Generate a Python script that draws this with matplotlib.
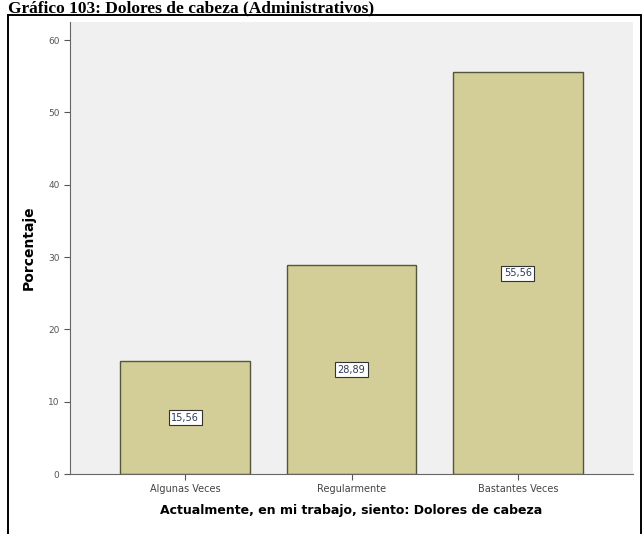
import matplotlib
matplotlib.use("Agg")
import matplotlib.pyplot as plt
from matplotlib.patches import Rectangle

categories = ["Algunas Veces", "Regularmente", "Bastantes Veces"]
values = [15.56, 28.89, 55.56]
labels = ["15,56", "28,89", "55,56"]
yticks = [0, 10, 20, 30, 40, 50, 60]

fig = plt.figure(figsize=(6.43, 5.34), dpi=100)
fig.patch.set_facecolor("white")

# outer frame
fig.add_artist(Rectangle((8/643, -0.05), (641-8)/643, 1.05 - 15/534,
                         transform=fig.transFigure, fill=False,
                         edgecolor="black", linewidth=1.4))
fig.text(8/643, 1 - 0.2/534, "Gráfico 103: Dolores de cabeza (Administrativos)",
         family="Liberation Serif", fontweight="bold", fontsize=12.5,
         ha="left", va="top")

ax = fig.add_axes([70/643, 60/534, (633-70)/643, (474-22)/534])
ax.set_facecolor("#F0F0F0")
x = range(len(categories))
ax.bar(x, values, width=0.78, color="#D3CD97", edgecolor="#55553C", linewidth=1.0)
for xi, v, lab in zip(x, values, labels):
    ax.text(xi, v / 2, lab, ha="center", va="center", fontsize=7, color="#2F3A55",
            bbox=dict(boxstyle="square,pad=0.25", facecolor="white",
                      edgecolor="#333333", linewidth=0.8))
ax.set_xlim(-0.693, 2.693)
ax.set_ylim(0, 62.5)
ax.set_yticks(yticks)
ax.set_xticks(list(x))
ax.set_xticklabels(categories, fontsize=7, color="#444444")
ax.tick_params(axis="y", labelsize=6.5, labelcolor="#555555", length=4, color="#555555")
ax.tick_params(axis="x", length=4, color="#555555")
for s in ["top", "right"]:
    ax.spines[s].set_visible(False)
ax.spines["left"].set_color("#666666")
ax.spines["bottom"].set_color("#666666")
ax.set_xlabel("Actualmente, en mi trabajo, siento: Dolores de cabeza",
              fontsize=9, fontweight="bold", labelpad=7)
ax.set_ylabel("Porcentaje", fontsize=10, fontweight="bold", labelpad=9)

fig.savefig("out.png", dpi=100)
